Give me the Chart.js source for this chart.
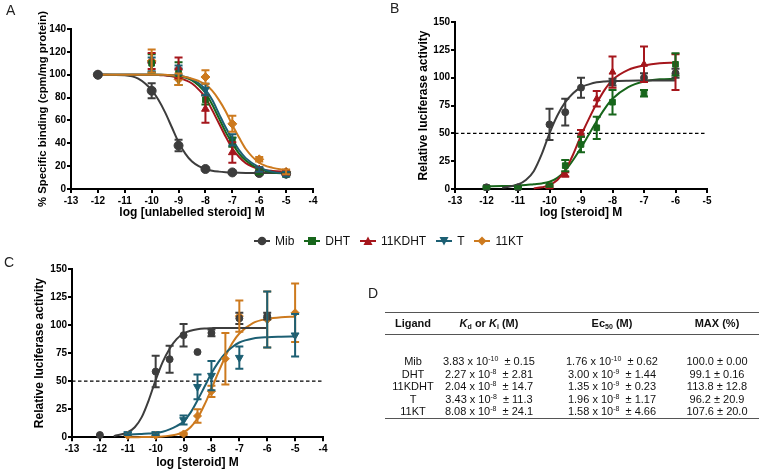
<!DOCTYPE html>
<html>
<head>
<meta charset="utf-8">
<script src="https://cdn.jsdelivr.net/npm/chart.js@4.4.0/dist/chart.umd.min.js"></script>
<style>
  body { margin: 0; background: #fff; font-family: "Liberation Sans", Arial, sans-serif; }
  #wrap { position: relative; width: 763px; height: 471px; overflow: hidden; background: #fff; }
  canvas { position: absolute; }
  .letter { position: absolute; font-size: 14px; color: #222; line-height: 14px; }
  #legend { position: absolute; left: 254px; top: 234px; display: flex; align-items: center; font-size: 12px; color: #111; }
  #legend svg { margin-right: 5px; }
  #legend span { margin-right: 10px; }
  .cell { position: absolute; width: 200px; text-align: center; font-size: 11px; color: #111; line-height: 12px; white-space: nowrap; }
  .head { font-weight: bold; font-size: 11px; }
  .rule { position: absolute; left: 385px; width: 374px; border-top: 1.5px solid #555; }
  sup { font-size: 7px; vertical-align: 4px; line-height: 0; }
  sub { font-size: 7px; vertical-align: -2px; line-height: 0; }
</style>
</head>
<body>
<div id="wrap">
  <canvas id="chartA" width="330" height="232" style="left:0;top:0"></canvas>
  <canvas id="chartB" width="383" height="232" style="left:380px;top:0"></canvas>
  <canvas id="chartC" width="380" height="231" style="left:0;top:240px"></canvas>
  <div class="letter" style="left:6px;top:3px">A</div>
  <div class="letter" style="left:390px;top:1px">B</div>
  <div class="letter" style="left:4px;top:255px">C</div>
  <div class="letter" style="left:368px;top:286px">D</div>
  <div id="legend"></div>
  <div id="table"></div>
</div>
<script>
"use strict"

const FONT = "'Liberation Sans', Arial, sans-serif"

const names = ["Mib", "DHT", "11KDHT", "T", "11KT"]
const colors = ["#3d3d3d", "#17661b", "#a5161c", "#1c5f73", "#cd7a1e"]
const shapes = ["circle", "rect", "triangle", "triangle", "rectRot"]
const rotations = [0, 0, 0, 180, 0]

// ---- panel A: competitive binding
const doseA = [-12, -10, -9, -8, -7, -6, -5]
const mibA = [100, 86, 38, 17.5, 14.5, 14, 13.5]
const mibErrA = [0, 6.5, 5, 1, 1, 1, 1]
const dhtA = [100, 110, 101, 78, 41, 15, 13]
const dhtErrA = [0, 8, 10, 4, 4, 2, 2]
const kdhtA = [100, 112, 106, 70, 32, 17, 14]
const kdhtErrA = [0, 7, 9, 12, 9, 2, 2]
const tA = [100, 109, 104, 87, 43, 17, 13]
const tErrA = [0, 6, 4, 5, 5, 2, 2]
const ktA = [100, 112, 96, 98, 57, 26, 15]
const ktErrA = [0, 10, 5, 6, 7, 2, 2]

const curveXA = [-12, -11, -10.5, -10, -9.75, -9.5, -9.25, -9, -8.75, -8.5, -8.25, -8, -7.75, -7.5, -7.25, -7, -6.75, -6.5, -6, -5.5, -5]
const mibFitA = [100, 99.5, 96.5, 86.5, 78, 67, 54, 41, 31, 24, 20, 17.5, 16, 15.2, 14.7, 14.4, 14.2, 14.1, 14, 14, 14]
const dhtFitA = [100, 100, 100, 100, 99.9, 99.7, 99.3, 98.5, 97.5, 95, 90.5, 84, 74, 62, 50, 40, 31, 25, 17.5, 14.5, 13.5]
const kdhtFitA = [100, 100, 100, 99.9, 99.8, 99.3, 98.7, 97.4, 95.3, 92.3, 87, 80, 69, 57.5, 46, 35.5, 28, 22.7, 17.6, 15.8, 15.3]
const tFitA = [100, 100, 100, 100, 99.9, 99.8, 99.5, 99, 98, 96, 92.5, 87, 78, 66, 54, 43.5, 34, 27, 19, 15, 13.5]
const ktFitA = [100, 100, 100, 100, 100, 99.9, 99.5, 99, 98, 96.5, 94.5, 91.5, 86, 78, 68, 56, 45, 35, 23, 18.5, 16.5]

// ---- panel B: transactivation, Mib / DHT / 11KDHT
const doseB = [-12, -11, -10, -9.5, -9, -8.5, -8, -7, -6]
const mibB = [1.5, 1.5, 58, 69, 91, null, 96, 100, 104]
const mibErrB = [0, 0, 14, 12, 9, 0, 3, 4, 4]
const dhtB = [1.5, 1.5, 3, 21, 40, 55, 78, 86, 112]
const dhtErrB = [1, 1, 1, 5, 7, 10, 11, 3, 10]
const kdhtB = [null, null, 2, 13, 50, 81, 105, 112, 105]
const kdhtErrB = [0, 0, 1, 2, 3, 7, 14, 16, 16]

const curveXB = [-12, -11.5, -11, -10.75, -10.5, -10.25, -10, -9.75, -9.5, -9.25, -9, -8.75, -8.5, -8.25, -8, -7.5, -7, -6.5, -6]
const mibFitB = [null, 1, 4, 8, 16, 31, 50, 66, 78, 86, 91.5, 94, 95.8, 96.6, 97, 97.3, 97.4, 97.5, 97.5]
const dhtFitB = [2.5, 2.6, 3, 3.5, 4.3, 5, 6.5, 10, 16.5, 26, 37, 49, 61, 72, 81, 91.5, 96.5, 98.5, 99]
const kdhtFitB = [null, null, null, null, 0.5, 1.5, 3.5, 8, 17, 31, 48, 63, 77, 89, 98, 107, 111, 113, 113.5]

// ---- panel C: transactivation, Mib / T / 11KT
const doseC = [-12, -11, -10, -9.5, -9, -8.5, -8, -7.5, -7, -6, -5]
const mibC = [2, null, 58.6, 69.6, 91, 76, 93, null, 106, 108, null]
const mibErrC = [0, 0, 14, 12, 10, 0, 3, 0, 5, 3, 0]
const tC = [null, 3, 3, null, 15.5, 45, 55, null, 71, 105, 91]
const tErrC = [0, 1, 1, 0, 4, 11, 13, 0, 10, 25, 19]
const ktC = [null, 1.5, 1.5, null, 3, 19, 41, 70, 108, 105, 111]
const ktErrC = [0, 0, 0, 0, 1, 6, 5, 23, 14, 25, 26]

const curveXC = [-12, -11.5, -11, -10.75, -10.5, -10.25, -10, -9.75, -9.5, -9.25, -9, -8.75, -8.5, -8.25, -8, -7.75, -7.5, -7.25, -7, -6.5, -6, -5.5, -5]
const mibFitC = [null, 1, 4.5, 9, 18, 33, 51, 67, 79, 87.5, 92.5, 95, 96.3, 97, 97.3, 97.5, 97.5, 97.5, 97.5, 97.5, 97.5, null, null]
const tFitC = [null, null, 2.5, 2.7, 3, 3.3, 3.8, 5, 7, 10, 14, 22, 33, 45, 57, 67, 75, 80.5, 84.5, 88, 89.2, 89.6, 89.8]
const ktFitC = [null, null, 0, 0.1, 0.2, 0.3, 0.5, 0.8, 1.5, 2.5, 4.5, 9, 17, 29, 43, 58, 72, 84, 92.5, 102, 105.5, 107, 107.5]

const halfLine = [50, 50]

// ---- table D
const tableHead = ["Ligand", "<i>K</i><sub>d</sub> or <i>K</i><sub>i</sub> (M)", "Ec<sub>50</sub> (M)", "MAX (%)"]
const ligands = ["Mib", "DHT", "11KDHT", "T", "11KT"]
const kdMant = ["3.83", "2.27", "2.04", "3.43", "8.08"]
const kdExp = ["-10", "-8", "-8", "-8", "-8"]
const kdErr = ["0.15", "2.81", "14.7", "11.3", "24.1"]
const ecMant = ["1.76", "3.00", "1.35", "1.96", "1.58"]
const ecExp = ["-10", "-9", "-9", "-8", "-8"]
const ecErr = ["0.62", "1.44", "0.23", "1.17", "4.66"]
const maxVal = ["100.0", "99.1", "113.8", "96.2", "107.6"]
const maxErr = ["0.00", "0.16", "12.8", "20.9", "20.0"]

function pts(xs, ys) {
  const out = []
  xs.forEach((x, i) => { if (ys[i] !== null) out.push({x: x, y: ys[i]}) })
  return out
}

function errs(ys, es) {
  return es.filter((e, i) => ys[i] !== null)
}

function fitSet(k, xs, ys) {
  return {
    data: pts(xs, ys),
    borderColor: colors[k],
    borderWidth: 2,
    pointRadius: 0,
    showLine: true,
    cubicInterpolationMode: "monotone",
    clip: false
  }
}

function pointSet(k, xs, ys, es, r) {
  return {
    data: pts(xs, ys),
    errors: errs(ys, es),
    borderColor: colors[k],
    backgroundColor: colors[k],
    pointStyle: shapes[k],
    rotation: rotations[k],
    pointRadius: r,
    pointBorderWidth: 1,
    showLine: false,
    clip: false
  }
}

function dashSet(x0, x1) {
  return {
    data: pts([x0, x1], halfLine),
    borderColor: "#000",
    borderWidth: 1.3,
    borderDash: [3.5, 2.5],
    pointRadius: 0,
    showLine: true
  }
}

const errorBars = {
  id: "errorBars",
  afterDatasetsDraw(chart) {
    const c = chart.ctx
    const xs = chart.scales.x
    const ys = chart.scales.y
    chart.data.datasets.forEach((ds) => {
      if (!ds.errors) return
      c.save()
      c.strokeStyle = ds.borderColor
      c.lineWidth = 2
      ds.data.forEach((p, j) => {
        const e = ds.errors[j]
        if (!e) return
        const px = xs.getPixelForValue(p.x)
        const top = ys.getPixelForValue(p.y + e)
        const bot = ys.getPixelForValue(p.y - e)
        c.beginPath()
        c.moveTo(px, top); c.lineTo(px, bot)
        c.moveTo(px - 4, top); c.lineTo(px + 4, top)
        c.moveTo(px - 4, bot); c.lineTo(px + 4, bot)
        c.stroke()
      })
      c.restore()
    })
  }
}

function axisScales(o) {
  const tickFont = {family: FONT, size: 10, weight: "bold"}
  const grid = {display: true, drawOnChartArea: false, drawTicks: true, tickLength: 4, color: "#000", lineWidth: 2}
  const border = {display: true, color: "#000", width: 2}
  return {
    x: {
      type: "linear", min: o.xmin, max: o.xmax,
      ticks: {stepSize: 1, font: tickFont, color: "#000", padding: 2},
      grid: grid, border: border,
      title: {display: true, text: o.xTitle, font: {family: FONT, size: 12, weight: "bold"}, color: "#000", padding: {top: 0, bottom: o.xTitlePad}},
      afterFit(s) { s.height = o.xH }
    },
    y: {
      type: "linear", min: 0, max: o.ymax,
      ticks: {stepSize: o.ystep, font: tickFont, color: "#000", padding: 1},
      grid: grid, border: border,
      title: {display: true, text: o.yTitle, font: {family: FONT, size: o.yTitleSize, weight: "bold"}, color: "#000", padding: {top: o.yTitlePad, bottom: 0}},
      afterFit(s) { s.width = o.yW }
    }
  }
}

function makeChart(id, datasets, scales, padding) {
  return new Chart(document.getElementById(id), {
    type: "scatter",
    data: {datasets: datasets},
    options: {
      responsive: false,
      animation: false,
      layout: {padding: padding},
      plugins: {legend: {display: false}, tooltip: {enabled: false}},
      scales: scales
    },
    plugins: [errorBars]
  })
}

// A
makeChart("chartA", [
  pointSet(0, doseA, mibA, mibErrA, 4.5),
  pointSet(1, doseA, dhtA, dhtErrA, 4),
  pointSet(2, doseA, kdhtA, kdhtErrA, 4.5),
  pointSet(3, doseA, tA, tErrA, 4.5),
  pointSet(4, doseA, ktA, ktErrA, 4.5),
  fitSet(4, curveXA, ktFitA),
  fitSet(3, curveXA, tFitA),
  fitSet(1, curveXA, dhtFitA),
  fitSet(2, curveXA, kdhtFitA),
  fitSet(0, curveXA, mibFitA)
], axisScales({
  xmin: -13, xmax: -4, ymax: 140, ystep: 20,
  xTitle: "log [unlabelled steroid] M", yTitle: "% Specific binding (cpm/mg protein)",
  xH: 38, yW: 71, xTitlePad: 7, yTitlePad: 36, yTitleSize: 11.3
}), {left: 0, top: 29, right: 17, bottom: 5})

// B
makeChart("chartB", [
  pointSet(0, doseB, mibB, mibErrB, 3.5),
  pointSet(2, doseB, kdhtB, kdhtErrB, 4),
  pointSet(1, doseB, dhtB, dhtErrB, 4),
  fitSet(0, curveXB, mibFitB),
  fitSet(2, curveXB, kdhtFitB),
  fitSet(1, curveXB, dhtFitB),
  dashSet(-13, -5)
], axisScales({
  xmin: -13, xmax: -5, ymax: 150, ystep: 25,
  xTitle: "log [steroid] M", yTitle: "Relative luciferase activity",
  xH: 38, yW: 75, xTitlePad: 7, yTitlePad: 36, yTitleSize: 12
}), {left: 0, top: 22, right: 56, bottom: 5})

// C
makeChart("chartC", [
  pointSet(0, doseC, mibC, mibErrC, 3.5),
  pointSet(4, doseC, ktC, ktErrC, 4),
  pointSet(3, doseC, tC, tErrC, 4.5),
  fitSet(0, curveXC, mibFitC),
  fitSet(3, curveXC, tFitC),
  fitSet(4, curveXC, ktFitC),
  dashSet(-13, -4)
], axisScales({
  xmin: -13, xmax: -4, ymax: 150, ystep: 25,
  xTitle: "log [steroid] M", yTitle: "Relative luciferase activity",
  xH: 33.7, yW: 72, xTitlePad: 1.5, yTitlePad: 32, yTitleSize: 12
}), {left: 0, top: 29, right: 57, bottom: 0})

// legend
function markerSvg(k) {
  const c = colors[k]
  let m = ""
  if (shapes[k] === "circle") m = `<circle cx="8" cy="6" r="4.3" fill="${c}"/>`
  if (shapes[k] === "rect") m = `<rect x="4" y="2" width="8" height="8" fill="${c}"/>`
  if (shapes[k] === "triangle" && rotations[k] === 0) m = `<polygon points="8,1.5 12.5,10 3.5,10" fill="${c}"/>`
  if (shapes[k] === "triangle" && rotations[k] === 180) m = `<polygon points="3.5,2 12.5,2 8,10.5" fill="${c}"/>`
  if (shapes[k] === "rectRot") m = `<polygon points="8,1.5 12.5,6 8,10.5 3.5,6" fill="${c}"/>`
  return `<svg width="16" height="12"><line x1="0" y1="6" x2="16" y2="6" stroke="${c}" stroke-width="2"/>${m}</svg>`
}
document.getElementById("legend").innerHTML = names.map((n, k) => markerSvg(k) + `<span>${n}</span>`).join("")

// table
const colCenter = [413, 489, 612, 717]
const rowY = [355, 367.5, 380, 392.5, 405]
let html = ""
tableHead.forEach((h, c) => {
  html += `<div class="cell head" style="left:${colCenter[c] - 100}px;top:317px">${h}</div>`
})
ligands.forEach((lig, r) => {
  const cells = [
    lig,
    `${kdMant[r]} x 10<sup>${kdExp[r]}</sup>&nbsp; &plusmn; ${kdErr[r]}`,
    `${ecMant[r]} x 10<sup>${ecExp[r]}</sup>&nbsp; &plusmn; ${ecErr[r]}`,
    `${maxVal[r]} &plusmn; ${maxErr[r]}`
  ]
  cells.forEach((t, c) => {
    html += `<div class="cell" style="left:${colCenter[c] - 100}px;top:${rowY[r]}px">${t}</div>`
  })
})
html += `<div class="rule" style="top:312px"></div><div class="rule" style="top:334px"></div><div class="rule" style="top:418px"></div>`
document.getElementById("table").innerHTML = html
</script>
</body>
</html>
